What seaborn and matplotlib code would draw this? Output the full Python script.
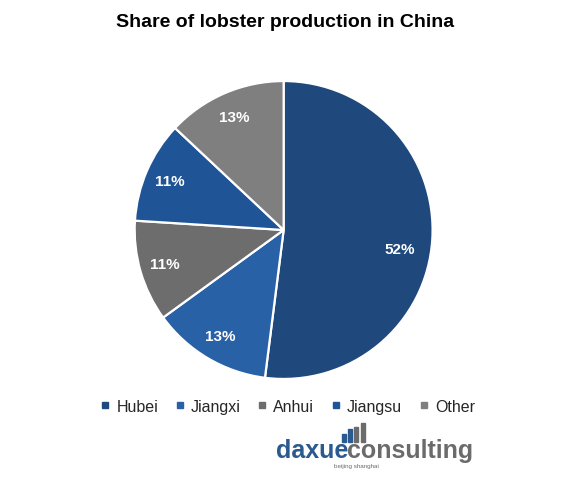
import matplotlib
matplotlib.use("Agg")
import matplotlib.pyplot as plt
from matplotlib.patches import Rectangle
from matplotlib.lines import Line2D
import numpy as np
import seaborn as sns

categories = ["Hubei", "Jiangxi", "Anhui", "Jiangsu", "Other"]
shares = [52, 13, 11, 11, 13]
colors = ["#1F497D", "#2961A7", "#6D6D6D", "#1F5496", "#7F7F7F"]
title = "Share of lobster production in China"

sns.set_theme(style="white")
plt.rcParams['font.family'] = ['Liberation Sans', 'DejaVu Sans']

fig = plt.figure(figsize=(5.83, 4.81), dpi=100)
ax = fig.add_axes([0.231, 0.210, 0.511, 0.6195])
pal = sns.color_palette(colors)
wedges, texts, autotexts = ax.pie(
    shares, colors=pal, startangle=90, counterclock=False,
    autopct=lambda p: f"{p:.0f}%", pctdistance=0.83,
    wedgeprops=dict(edgecolor="white", linewidth=1.6),
    textprops=dict(color="white", fontsize=11, fontweight="bold"))
# Excel-style placement of the large slice's label (a bit lower than mid-angle)
ang = np.deg2rad(-9.3)
autotexts[0].set_position((0.79 * np.cos(ang), 0.79 * np.sin(ang)))
ax.set_aspect("equal")
ax.set_xlim(-1, 1)
ax.set_ylim(-1, 1)
ax.axis("off")

fig.text(0.489, 0.953, title, ha="center", va="center",
         fontsize=14, fontweight="bold", color="black")

handles = [Line2D([0], [0], marker="s", linestyle="", markersize=4,
                  markerfacecolor=c, markeredgecolor=c) for c in colors]
fig.legend(handles, categories, loc="center", bbox_to_anchor=(0.494, 0.153),
           ncol=5, frameon=False, fontsize=11.5, handlelength=0.5,
           handletextpad=0.45, columnspacing=1.1)

# logo
blue = "#2A5A8E"
gray = "#6B6B6B"
for x0, top, c in [(342, 435, blue), (348, 430, blue), (354, 428, gray), (361, 424, gray)]:
    fig.patches.append(Rectangle((x0 / 583, 1 - 443 / 481), 3.5 / 583, (443 - top) / 481,
                                 transform=fig.transFigure, color=c))
t1 = fig.text(276 / 583, 1 - 458 / 481, "daxue", ha="left", va="baseline",
              fontsize=18, fontweight="bold", color=blue)
fig.canvas.draw()
bb = t1.get_window_extent()
fig.text(bb.x1 / 583 - 0.002, 1 - 458 / 481, "consulting", ha="left", va="baseline",
         fontsize=18, fontweight="bold", color=gray)
fig.text(356 / 583, 1 - 467 / 481, "beijing shanghai", ha="center", va="center",
         fontsize=4.5, color=gray)

fig.savefig("out.png", dpi=100)
